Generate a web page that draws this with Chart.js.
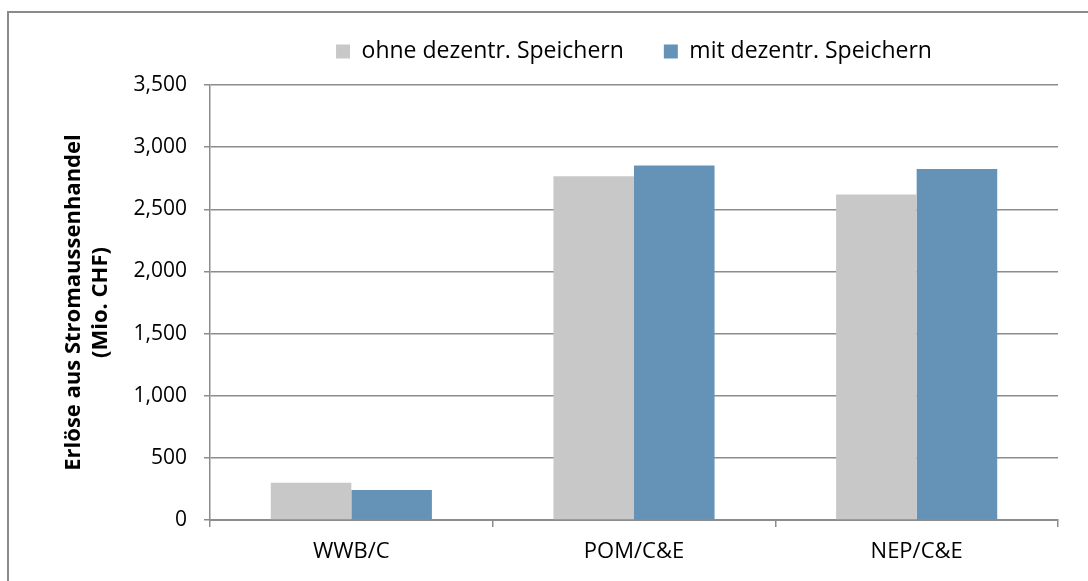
<!DOCTYPE html>
<html>
<head>
<meta charset="utf-8">
<script src="https://cdn.jsdelivr.net/npm/chart.js@4.4.1/dist/chart.umd.min.js"></script>
<style>
  body { margin: 0; background: #fff; overflow: hidden; }
  #wrap { position: absolute; left: 0; top: 0; width: 1088px; height: 581px; }
  #frame { position: absolute; left: 7px; top: 11px; width: 1100px; height: 620px; border: 2px solid #8a8a8a; pointer-events: none; }
</style>
</head>
<body>
<div id="wrap"><canvas id="chart" width="1088" height="581"></canvas></div>
<div id="frame"></div>
<script>
var categories = ['WWB/C', 'POM/C&E', 'NEP/C&E']
var seriesNames = ['ohne dezentr. Speichern', 'mit dezentr. Speichern']
var ohneValues = [300, 2766, 2618]
var mitValues = [242, 2852, 2825]
var yTicks = [0, 500, 1000, 1500, 2000, 2500, 3000, 3500]

var gridColor = '#8c8c8c'
var fontFamily = "'Open Sans', sans-serif"

// legend sits over the plot area and leaves a bit more room below it
var legendOverPlot = {
  id: 'legendOverPlot',
  beforeLayout(chart) {
    const lg = chart.legend
    if (lg && !lg._extraRoom) {
      const fit = lg.fit.bind(lg)
      lg.fit = function () {
        fit()
        this.height += 12
      }
      lg._extraRoom = true
    }
  },
  afterLayout(chart) {
    if (chart.legend) {
      chart.legend.left = chart.chartArea.left
      chart.legend.right = chart.chartArea.right
    }
  }
}

const ctx = document.getElementById('chart')

new Chart(ctx, {
  type: 'bar',
  data: {
    labels: categories,
    datasets: [{
      label: seriesNames[0],
      data: ohneValues,
      backgroundColor: '#c8c8c8',
      borderWidth: 0,
      barPercentage: 1,
      categoryPercentage: 0.57
    }, {
      label: seriesNames[1],
      data: mitValues,
      backgroundColor: '#6593b7',
      borderWidth: 0,
      barPercentage: 1,
      categoryPercentage: 0.57
    }]
  },
  options: {
    responsive: false,
    animation: false,
    layout: {
      padding: { left: 0, right: 30, top: 0, bottom: 0 }
    },
    plugins: {
      tooltip: { enabled: false },
      legend: {
        position: 'top',
        align: 'center',
        labels: {
          boxWidth: 14,
          boxHeight: 14,
          padding: 40,
          color: '#000',
          font: { family: fontFamily, size: 23 }
        }
      }
    },
    scales: {
      y: {
        min: 0,
        max: 3500,
        afterBuildTicks(scale) {
          scale.ticks = yTicks.map(v => ({ value: v }))
        },
        afterFit(scale) {
          scale.width = 210
        },
        ticks: {
          color: '#000',
          padding: 17,
          font: { family: fontFamily, size: 21 },
          callback: v => v.toLocaleString('en-US')
        },
        grid: {
          color: gridColor,
          lineWidth: 1.5,
          tickLength: 6
        },
        border: { color: gridColor, width: 1.5 },
        title: {
          display: true,
          text: ['Erlöse aus Stromaussenhandel', '(Mio. CHF)'],
          color: '#000',
          font: { family: fontFamily, size: 22, weight: 'bold', lineHeight: 1.2 },
          padding: { top: 61, bottom: 0 }
        }
      },
      x: {
        afterFit(scale) {
          scale.height = 61
        },
        ticks: {
          color: '#000',
          padding: 12,
          font: { family: fontFamily, size: 22 }
        },
        grid: {
          offset: true,
          drawOnChartArea: false,
          color: gridColor,
          lineWidth: 1.5,
          tickLength: 7
        },
        border: { color: gridColor, width: 2 }
      }
    }
  },
  plugins: [legendOverPlot]
})
</script>
</body>
</html>
